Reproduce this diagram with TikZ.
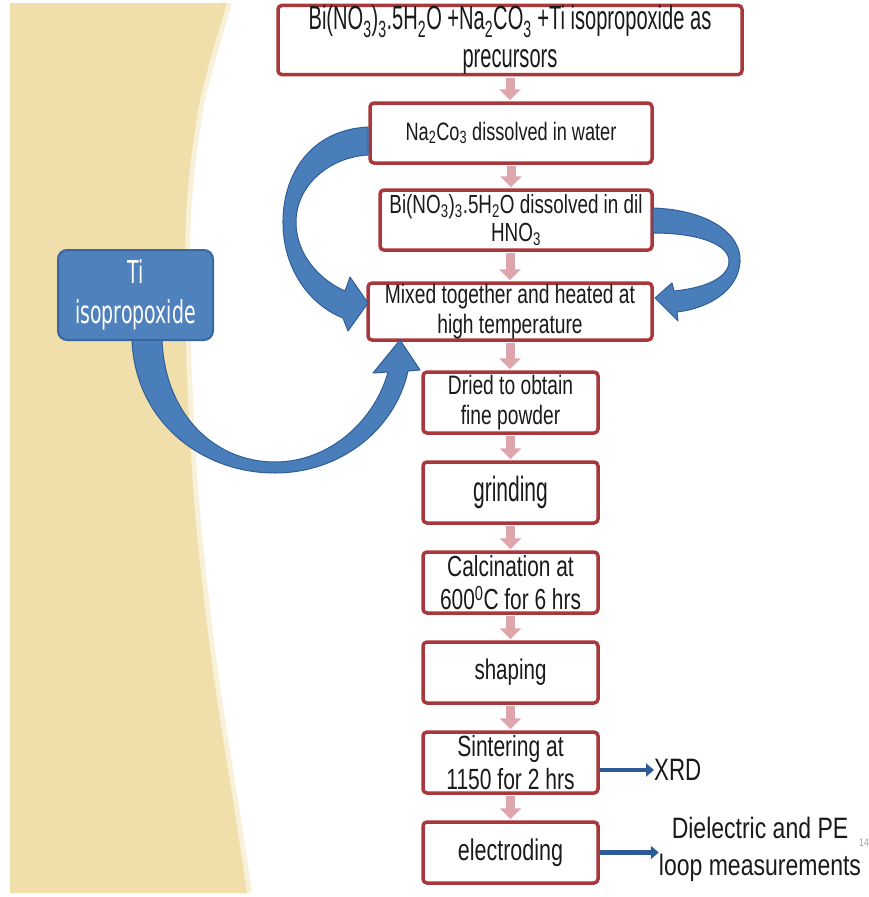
\documentclass[tikz,border=0pt]{standalone}
\usepackage{fontspec}
\usetikzlibrary{arrows.meta,positioning}
\newfontfamily\boxfont[FakeStretch=0.6]{Liberation Sans}
\newfontfamily\wideboxfont[FakeStretch=0.72]{Liberation Sans}
\newfontfamily\sidefont[FakeStretch=0.78]{Liberation Sans}
\newfontfamily\tifont[FakeStretch=0.6]{DejaVu Sans}
\definecolor{tan}{HTML}{F0DFAB}
\definecolor{cream}{HTML}{F8F1DA}
\definecolor{frame}{HTML}{A8383C}
\definecolor{ink}{HTML}{1A1A1A}
\definecolor{pinkarr}{HTML}{DDA5AC}
\definecolor{blockblue}{HTML}{4A7EBB}
\definecolor{blockedge}{HTML}{2F5E97}
\definecolor{tibox}{HTML}{4F81BD}
\definecolor{tiedge}{HTML}{3A679F}
\definecolor{outblue}{HTML}{2D5B95}
\definecolor{muted}{HTML}{A0A0A0}
\tikzset{
  stepbox/.style={draw=frame,line width=3.5pt,fill=white,rounded corners=4pt,align=center,inner sep=0pt,text=ink},
  flowbox/.style={stepbox,minimum width=175pt,minimum height=61pt},
  pinkflow/.style={draw=pinkarr,line width=9pt,-{Triangle[width=21pt,length=11pt]},shorten <=1.5pt,shorten >=1pt},
  outflow/.style={draw=outblue,line width=4.5pt,-{Triangle[width=13pt,length=8pt]}},
  block/.style={fill=blockblue,draw=blockedge,line width=1pt,line join=round},
  tinode/.style={draw=tiedge,fill=tibox,line width=2pt,rounded corners=9pt,align=center,text=white,minimum width=155pt,minimum height=90pt,inner sep=0pt}
}
\begin{document}
\begin{tikzpicture}[x=1pt,y=-1pt]
    \useasboundingbox (0,0) rectangle (869,897);
    \fill[white] (0,0) rectangle (869,897);
    \draw[cream,line width=10pt] plot[smooth] coordinates {(227,3) (200,100) (187,200) (185,300) (188,400) (194,500) (204,600) (217,700) (233,800) (247,893)};
    \fill[tan] (10,3) -- plot[smooth] coordinates {(227,3) (200,100) (187,200) (185,300) (188,400) (194,500) (204,600) (217,700) (233,800) (247,893)} -- (10,893) -- cycle;

    \node[stepbox,minimum width=464pt,minimum height=62pt,font=\boxfont\fontsize{33.5}{38}\selectfont] (prec) at (510,40) {Bi(NO\textsubscript{3})\textsubscript{3}.5H\textsubscript{2}O +Na\textsubscript{2}CO\textsubscript{3} +Ti isopropoxide as\\precursors};
    \node[stepbox,minimum width=282pt,minimum height=60pt,font=\wideboxfont\fontsize{25.2}{28}\selectfont] (na) at (511,133) {Na\textsubscript{2}Co\textsubscript{3} dissolved in water};
    \node[stepbox,minimum width=272pt,minimum height=60pt,font=\wideboxfont\fontsize{26.2}{28}\selectfont] (bi) at (516,220) {Bi(NO\textsubscript{3})\textsubscript{3}.5H\textsubscript{2}O dissolved in dil\\HNO\textsubscript{3}};
    \node[stepbox,minimum width=284pt,minimum height=57pt,font=\wideboxfont\fontsize{26.7}{30}\selectfont] (mix) at (510,311.5) {Mixed together and heated at\\high temperature};
    \node[flowbox,font=\wideboxfont\fontsize{26.7}{30}\selectfont] (dry) at (510.5,402.5) {Dried to obtain\\fine powder};
    \node[flowbox,below=25.5pt of dry,font=\boxfont\fontsize{35}{38}\selectfont] (grind) {grinding};
    \node[flowbox,below=25.5pt of grind,font=\wideboxfont\fontsize{29}{33}\selectfont] (calc) {Calcination at\\600\textsuperscript{0}C for 6 hrs};
    \node[flowbox,below=25.5pt of calc,font=\wideboxfont\fontsize{28.5}{33}\selectfont] (shape) {shaping};
    \node[flowbox,below=25.5pt of shape,font=\wideboxfont\fontsize{29.2}{33}\selectfont] (sinter) {Sintering at\\1150 for 2 hrs};
    \node[flowbox,below=25.5pt of sinter,font=\wideboxfont\fontsize{29.9}{33}\selectfont] (elec) {electroding};

    \node[tinode,font=\tifont\fontsize{31.5}{40}\selectfont] (ti) at (135.5,295) {Ti\\isopropoxide};

    \node[anchor=west,inner sep=0pt,text=ink,font=\wideboxfont\fontsize{31}{36}\selectfont] (xrd) at (654,770) {XRD};
    \node[align=center,inner sep=0pt,text=ink,font=\sidefont\fontsize{29.5}{37}\selectfont] (diel) at (760,849) {Dielectric and PE\\loop measurements};
    \node[inner sep=0pt,text=muted,font=\sidefont\fontsize{11}{12}\selectfont] (pg) at (864,843) {14};

    \draw[pinkflow] (prec.south) -- (prec.south |- na.north);
    \draw[pinkflow] (na.south) -- (na.south |- bi.north);
    \draw[pinkflow] (mix.north |- bi.south) -- (mix.north);
    \draw[pinkflow] (mix.south) -- (mix.south |- dry.north);
    \draw[pinkflow] (dry) -- (grind);
    \draw[pinkflow] (grind) -- (calc);
    \draw[pinkflow] (calc) -- (shape);
    \draw[pinkflow] (shape) -- (sinter);
    \draw[pinkflow] (sinter) -- (elec);

    \draw[outflow] (sinter.east |- xrd.west) -- (xrd.west);
    \draw[outflow] (elec.east) -- (elec.east -| diel.west);

    \draw[block] (368,127) .. controls (310,130) and (282,175) .. (283,225) .. controls (284,270) and (310,305) .. (343,318) -- (348,331) -- (368,303) -- (350,277) -- (345,291) .. controls (320,280) and (296,255) .. (296,222) .. controls (296,185) and (330,157) .. (368,155) -- cycle;
    \draw[block] (653,208) .. controls (710,210) and (742,235) .. (740,262) .. controls (738,290) and (710,308) .. (677,312) -- (678,321) -- (655,298) -- (672,283) -- (674,291) .. controls (705,288) and (728,278) .. (729,262) .. controls (730,245) and (700,233) .. (653,233) -- cycle;
    \draw[block] (132,340) .. controls (135,420) and (200,473) .. (275,473) .. controls (340,473) and (395,430) .. (408,371) -- (420,370) -- (400,340) -- (373,373) -- (388,372) .. controls (375,420) and (330,462) .. (275,462) .. controls (215,462) and (165,415) .. (162,340) -- cycle;
\end{tikzpicture}
\end{document}
